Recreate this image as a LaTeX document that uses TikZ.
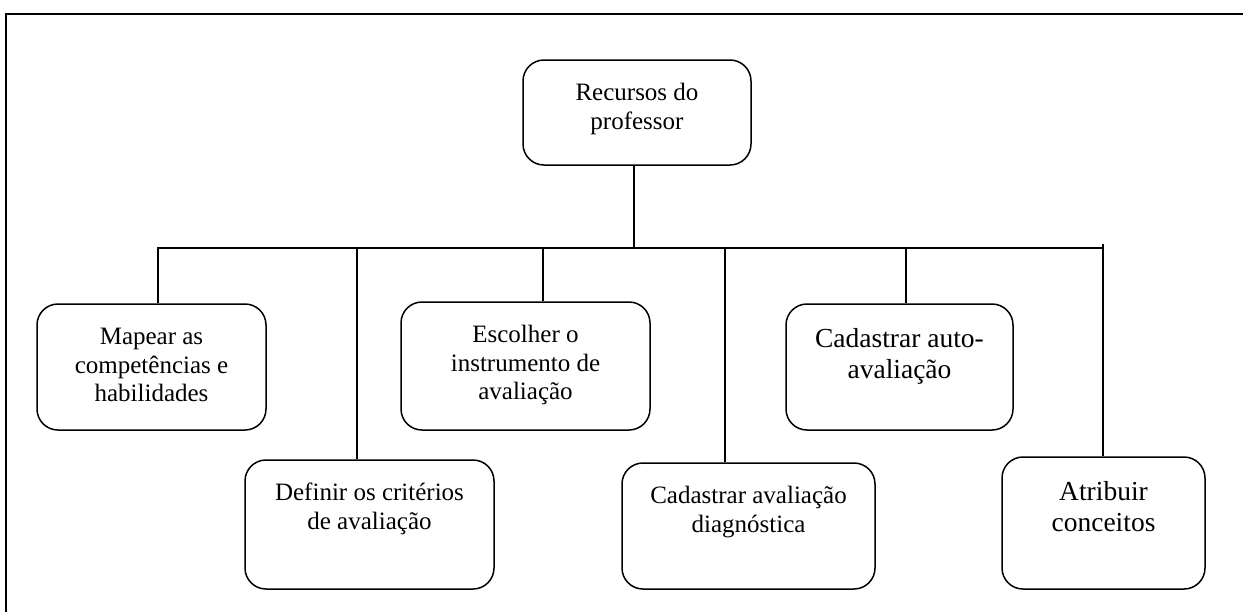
\documentclass[tikz,border=0pt]{standalone}
\usepackage{fontspec}
\setmainfont{Liberation Serif}
\begin{document}
\begin{tikzpicture}[x=0.5pt,y=-0.5pt,
  box/.style={draw, line width=0.75pt, rounded corners=10.5pt, inner sep=0pt},
  link/.style={line width=0.75pt},
  txt/.style={inner sep=0pt, anchor=north, align=center,
    font=\fontsize{12.5}{14.25}\selectfont},
  bigtxt/.style={txt, font=\fontsize{13.75}{15.5}\selectfont}]
\useasboundingbox (0,0) rectangle (1243,612);

% page frame (open on the right and at the bottom)
\draw[line width=1.1pt] (6,612) -- (6,14) -- (1243,14);

% boxes
\node[box, minimum width=114pt,   minimum height=52.5pt] (root) at (637,112.5) {};
\node[box, minimum width=114.5pt, minimum height=63pt]   (map)  at (151.5,367) {};
\node[box, minimum width=124.5pt, minimum height=64pt]   (esc)  at (525.5,366) {};
\node[box, minimum width=124.5pt, minimum height=64.5pt] (def)  at (369.5,524.5) {};
\node[box, minimum width=126.5pt, minimum height=63pt]   (diag) at (748.5,526) {};
\node[box, minimum width=113.5pt, minimum height=63pt]   (auto) at (899.5,367) {};
\node[box, minimum width=101.5pt, minimum height=66pt]   (atr)  at (1103.5,523) {};

% labels
\node[txt] (root-t) at ([yshift=-10.5pt]root.north) {\strut Recursos do\\professor};
\node[txt] (map-t)  at ([yshift=-10.5pt]map.north)  {\strut Mapear as\\competências e\\habilidades};
\node[txt] (esc-t)  at ([yshift=-10.5pt]esc.north)  {\strut Escolher o\\instrumento de\\avaliação};
\node[txt] (def-t)  at ([yshift=-10.5pt]def.north)  {\strut Definir os critérios\\de avaliação};
\node[txt] (diag-t) at ([yshift=-10.5pt]diag.north) {\strut Cadastrar avaliação\\diagnóstica};
\node[bigtxt] (auto-t) at ([yshift=-11pt]auto.north) {\strut Cadastrar auto-\\avaliação};
\node[bigtxt] (atr-t)  at ([yshift=-11pt]atr.north)  {\strut Atribuir\\conceitos};

% junctions on the distribution bar
\coordinate (j0)   at (634,248);
\coordinate (busL) at (158,248);
\coordinate (j2)   at (357,248);
\coordinate (j3)   at (543,248);
\coordinate (j4)   at (725,248);
\coordinate (j5)   at (906,248);
\coordinate (busR) at (1103,248);

% connectors
\draw[link] (root.south -| j0) -- (j0);
\draw[link] (busL |- map.north) -- (busL) -- (busR);
\draw[link] (j2) -- (j2 |- def.north);
\draw[link] (j3) -- (j3 |- esc.north);
\draw[link] (j4) -- (j4 |- diag.north);
\draw[link] (j5) -- (j5 |- auto.north);
\draw[link] ([yshift=2pt]busR) -- (busR |- atr.north);
\end{tikzpicture}
\end{document}
